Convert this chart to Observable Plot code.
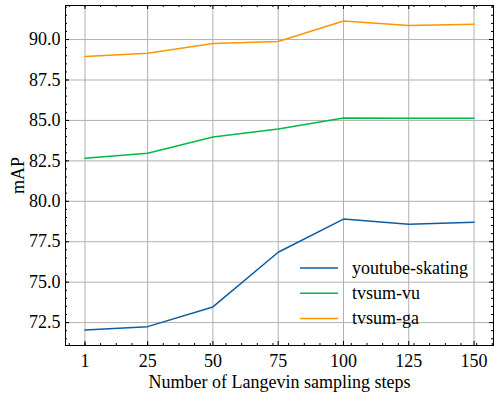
<!DOCTYPE html>
<html><head><meta charset="utf-8">
<script src="https://cdn.jsdelivr.net/npm/d3@7"></script>
<script src="https://cdn.jsdelivr.net/npm/@observablehq/plot@0.6"></script>
<style>body{margin:0;background:#fff}</style>
</head><body><div id="chart"></div>
<script>
const steps = [1, 25, 50, 75, 100, 125, 150];
const seriesNames = ["youtube-skating", "tvsum-vu", "tvsum-ga"];
const youtubeSkating = [72.04, 72.25, 73.47, 76.85, 78.90, 78.58, 78.70];
const tvsumVu = [82.66, 82.97, 83.98, 84.47, 85.15, 85.13, 85.13];
const tvsumGa = [88.95, 89.15, 89.75, 89.88, 91.15, 90.87, 90.95];
const xTicks = [1, 25, 50, 75, 100, 125, 150];
const yTicks = [72.5, 75, 77.5, 80, 82.5, 85, 87.5, 90];
const colors = ["#0C5DA5", "#00B945", "#FF9500"];

const W = 499, H = 395, mL = 65, mR = 6, mT = 5, mB = 50;
const PW = W - mL - mR, PH = H - mT - mB;
const FONT = "'Liberation Serif', 'Times New Roman', serif";
const FS = 18;

const values = [youtubeSkating, tvsumVu, tvsumGa];
const data = seriesNames.flatMap((s, i) => steps.map((x, j) => ({series: s, x, y: values[i][j]})));

// matplotlib-like 5% margins
const xExt = d3.extent(steps), yExt = d3.extent(values.flat());
const xPad = (xExt[1] - xExt[0]) * 0.05, yPad = (yExt[1] - yExt[0]) * 0.05;
const xDomain = [xExt[0] - xPad, xExt[1] + xPad];
const yDomain = [yExt[0] - yPad, yExt[1] + yPad];

// minor ticks (AutoMinorLocator-like)
const xMinor = d3.range(-5, 158, 6).filter(v => v >= xDomain[0] && v <= xDomain[1]);
const yMinor = d3.range(71.5, 92.01, 0.5).filter(v => v >= yDomain[0] && v <= yDomain[1]);

const black = "#000";
const chart = Plot.plot({
  width: W, height: H,
  marginLeft: mL, marginRight: mR, marginTop: mT, marginBottom: mB,
  style: {fontFamily: FONT, fontSize: FS + "px", color: "#000", background: "#fff"},
  x: {domain: xDomain, ticks: xTicks, tickSize: 0, tickPadding: 9, tickFormat: d3.format("d"),
      label: "Number of Langevin sampling steps", labelAnchor: "center", labelOffset: 42, labelArrow: "none"},
  y: {domain: yDomain, ticks: yTicks, tickSize: 0, tickPadding: 5, tickFormat: d3.format(".1f"),
      label: "mAP", labelAnchor: "center", labelOffset: 54, labelArrow: "none"},
  color: {domain: seriesNames, range: colors},
  marks: [
    Plot.ruleX(xTicks, {x: d => d, stroke: "#b0b0b0", strokeWidth: 1}),
    Plot.ruleY(yTicks, {y: d => d, stroke: "#b0b0b0", strokeWidth: 1}),
    Plot.line(data, {x: "x", y: "y", stroke: "series", z: "series", strokeWidth: 1.5}),
    // inward major ticks on all sides
    Plot.ruleX(xTicks, {x: d => d, insetTop: PH - 4, stroke: black}),
    Plot.ruleX(xTicks, {x: d => d, insetBottom: PH - 4, stroke: black}),
    Plot.ruleY(yTicks, {y: d => d, insetRight: PW - 4, stroke: black}),
    Plot.ruleY(yTicks, {y: d => d, insetLeft: PW - 4, stroke: black}),
    // minor ticks
    Plot.ruleX(xMinor, {x: d => d, insetTop: PH - 2, stroke: black}),
    Plot.ruleX(xMinor, {x: d => d, insetBottom: PH - 2, stroke: black}),
    Plot.ruleY(yMinor, {y: d => d, insetRight: PW - 2, stroke: black}),
    Plot.ruleY(yMinor, {y: d => d, insetLeft: PW - 2, stroke: black}),
    Plot.frame({stroke: black, strokeWidth: 1})
  ]
});
document.getElementById("chart").appendChild(chart);

// legend (no frame), lower right
const svg = d3.select(chart.tagName.toLowerCase() === "svg" ? chart : chart.querySelector("svg"));
const lg = svg.append("g").style("font-family", FONT).style("font-size", FS + "px").attr("text-anchor", "start");
seriesNames.forEach((s, i) => {
  const cy = 268 + i * 25.3;
  lg.append("line").attr("x1", 300).attr("x2", 338).attr("y1", cy).attr("y2", cy)
    .attr("stroke", colors[i]).attr("stroke-width", 1.5);
  lg.append("text").attr("x", 352).attr("y", cy).attr("dy", "0.32em").attr("fill", "#000").text(s);
});
</script>
</body></html>
